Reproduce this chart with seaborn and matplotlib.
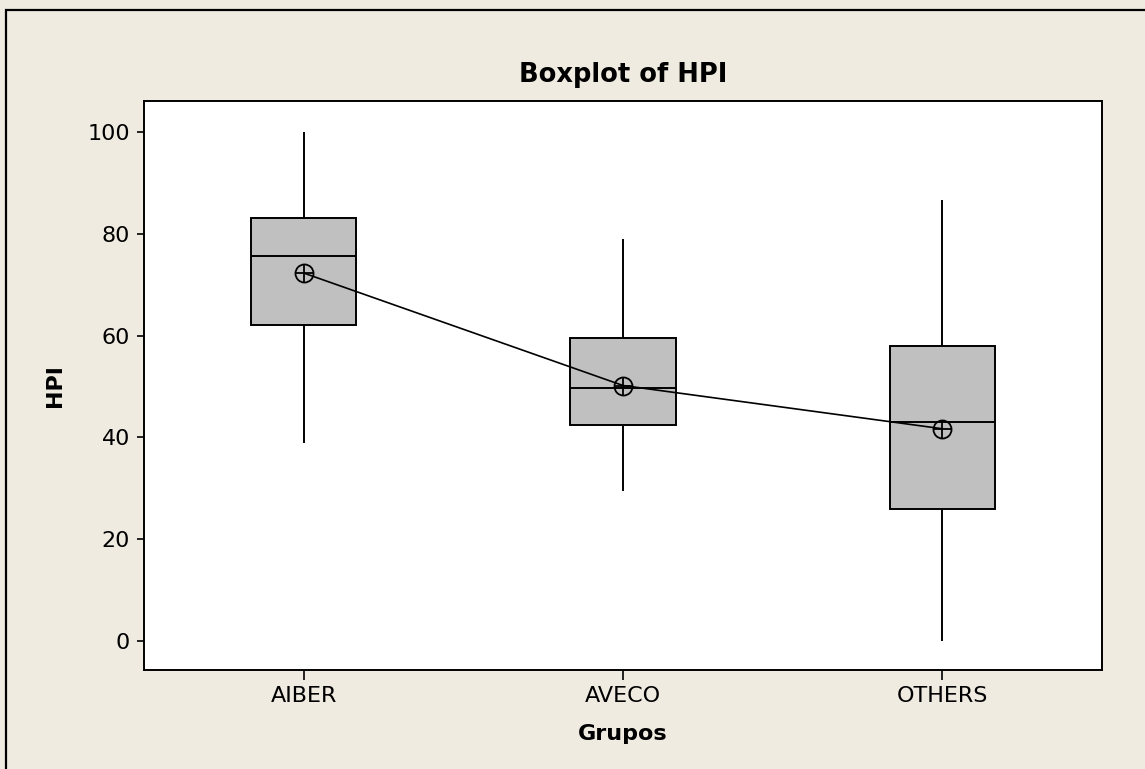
import matplotlib

matplotlib.use("Agg")
import matplotlib.pyplot as plt
import pandas as pd
import seaborn as sns
from matplotlib.patches import Rectangle

# five-number summaries (whiskers run to min / max)
groups = ["AIBER", "AVECO", "OTHERS"]
whisker_low = [39.0, 29.5, 0.0]
q1 = [62.0, 42.5, 26.0]
median = [75.6, 49.7, 43.0]
q3 = [83.1, 59.5, 57.9]
whisker_high = [100.0, 78.9, 86.7]
means = [72.3, 50.2, 41.7]
y_ticks = [0, 20, 40, 60, 80, 100]

BG = "#EFEBE1"

rows = []
for i, g in enumerate(groups):
    for v in (whisker_low[i], q1[i], median[i], q3[i], whisker_high[i]):
        rows.append({"Grupos": g, "HPI": v})
df = pd.DataFrame(rows)

sns.set_style("ticks")
plt.rcParams["font.family"] = ["DejaVu Sans"]
plt.rcParams["axes.linewidth"] = 1.4
plt.rcParams["text.color"] = "black"
plt.rcParams["axes.labelcolor"] = "black"

fig = plt.figure(figsize=(11.45, 7.69), dpi=100, facecolor=BG)
ax = fig.add_axes([144 / 1145, 1 - 670 / 769, (1102 - 144) / 1145, (670 - 101) / 769])
ax.set_facecolor("white")

sns.boxplot(
    data=df, x="Grupos", y="HPI", order=groups, whis=(0, 100), width=0.33,
    color="#C0C0C0", saturation=1, linecolor="black", linewidth=1.4,
    showcaps=False, showfliers=False, ax=ax,
)

# connected means, drawn as circle + cross
sns.pointplot(
    x=groups, y=means, order=groups, color="black", markers="o", errorbar=None,
    markersize=13, markerfacecolor="none", markeredgewidth=1.3, linewidth=1.2,
    zorder=5, ax=ax,
)
sns.pointplot(
    x=groups, y=means, order=groups, color="black", markers="+", linestyles="none",
    errorbar=None, markersize=13, markeredgewidth=1.3, zorder=6, ax=ax,
)

ax.set_xlim(-0.5, 2.5)
ax.set_ylim(-5.7, 106.1)
ax.set_yticks(y_ticks)
ax.set_xticks(range(len(groups)))
ax.set_xticklabels(groups)
for s in ax.spines.values():
    s.set_visible(True)
    s.set_color("black")
    s.set_linewidth(1.4)
ax.tick_params(axis="x", length=7.5, width=1.2, pad=4, labelsize=16, colors="black")
ax.tick_params(axis="y", length=5, width=1.2, pad=5, labelsize=16, colors="black")

ax.set_title("Boxplot of HPI", fontsize=18.5, fontweight="bold", pad=14, color="black")
ax.set_xlabel("Grupos", fontsize=16, fontweight="bold", labelpad=13)
ax.set_ylabel("HPI", fontsize=16, fontweight="bold", labelpad=16)

# outer frame of the graph window
fig.patches.append(
    Rectangle((5.5 / 1145, -0.5), 2, 1.5 - 10 / 769, transform=fig.transFigure,
              fill=False, edgecolor="black", linewidth=1.6)
)

fig.savefig("out.png", dpi=100, facecolor=BG)
